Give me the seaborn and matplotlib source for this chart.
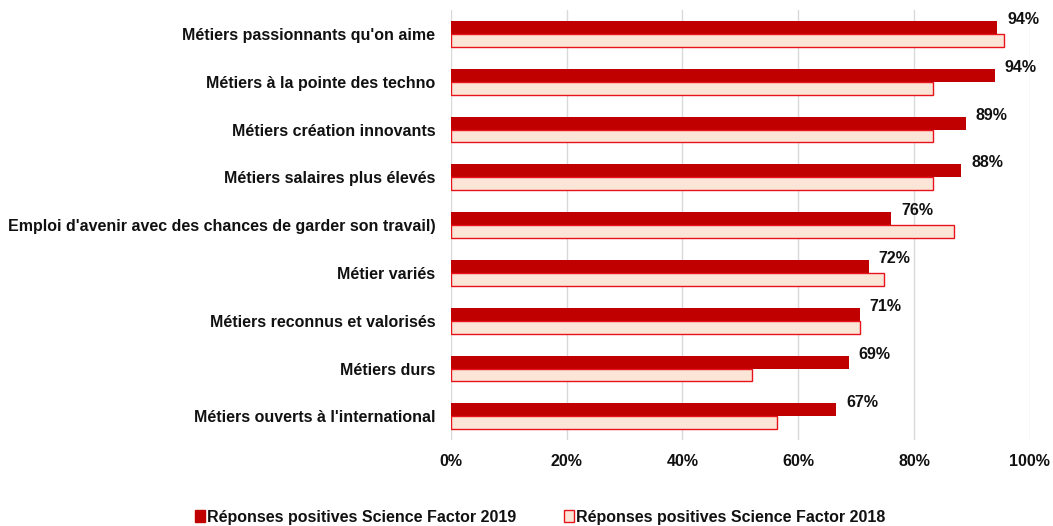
import pandas as pd
import matplotlib.pyplot as plt
import seaborn as sns
from matplotlib.patches import Patch

# ============================================================
# DONNEES
# ============================================================
categories = [
    "Métiers passionnants qu'on aime",
    "Métiers à la pointe des techno",
    "Métiers création innovants",
    "Métiers salaires plus élevés",
    "Emploi d'avenir avec des chances de garder son travail)",
    "Métier variés",
    "Métiers reconnus et valorisés",
    "Métiers durs",
    "Métiers ouverts à l'international",
]
val_2019 = [0.944, 0.940, 0.889, 0.882, 0.761, 0.722, 0.706, 0.687, 0.666]
val_2018 = [0.955, 0.833, 0.833, 0.833, 0.869, 0.748, 0.707, 0.521, 0.564]
series = ["Réponses positives Science Factor 2019", "Réponses positives Science Factor 2018"]
x_ticks = [0, 0.2, 0.4, 0.6, 0.8, 1.0]

RED = "#C00000"
PINK = "#FBE5D6"
EDGE = "#E8141B"
TXT = "#111111"

df = pd.DataFrame({
    "cat": categories * 2,
    "val": val_2019 + val_2018,
    "serie": [series[0]] * len(categories) + [series[1]] * len(categories),
})

# ============================================================
# FIGURE
# ============================================================
sns.set_style("white")
plt.rcParams["font.family"] = ["Liberation Sans", "DejaVu Sans"]
plt.rcParams["font.weight"] = "bold"

fig = plt.figure(figsize=(10.53, 5.26), dpi=100)
ax = fig.add_axes([0.428, 0.163, 0.550, 0.818])

sns.barplot(data=df, y="cat", x="val", hue="serie", orient="h",
            palette=[RED, PINK], width=0.54, saturation=1,
            legend=False, ax=ax)

for bar in ax.containers[1]:
    bar.set_edgecolor(EDGE)
    bar.set_linewidth(1.0)
for bar in ax.containers[0]:
    bar.set_linewidth(0)

# etiquettes de valeurs 2019
for bar, v in zip(ax.containers[0], val_2019):
    ax.text(bar.get_width() + 0.017, bar.get_y() - 0.03, f"{v:.0%}",
            ha="left", va="center", fontsize=11.5, fontweight="bold", color=TXT)

ax.set_xlim(0, 1.0)
ax.set_ylim(len(categories) - 0.5, -0.5)
ax.set_xticks(x_ticks)
ax.set_xticklabels([f"{t:.0%}" for t in x_ticks], fontsize=11.5,
                   fontweight="bold", color=TXT)
ax.set_yticklabels(categories, fontsize=11.5, fontweight="bold", color=TXT)
ax.tick_params(axis="y", length=0, pad=11)
ax.tick_params(axis="x", length=0, pad=10)
ax.set_xlabel("")
ax.set_ylabel("")
ax.xaxis.grid(True, color="#D9D9D9", linewidth=1)
ax.set_axisbelow(True)
for s in ax.spines.values():
    s.set_visible(False)

handles = [Patch(facecolor=RED, edgecolor=RED),
           Patch(facecolor=PINK, edgecolor=EDGE)]
fig.legend(handles, series, loc="lower center", bbox_to_anchor=(0.513, -0.025),
           ncol=2, frameon=False, handlelength=0.6, handleheight=0.8,
           handletextpad=0.15, columnspacing=3.0,
           prop={"size": 11.5, "weight": "bold"}, labelcolor=TXT)

plt.savefig("out.png", dpi=100)
plt.close()
